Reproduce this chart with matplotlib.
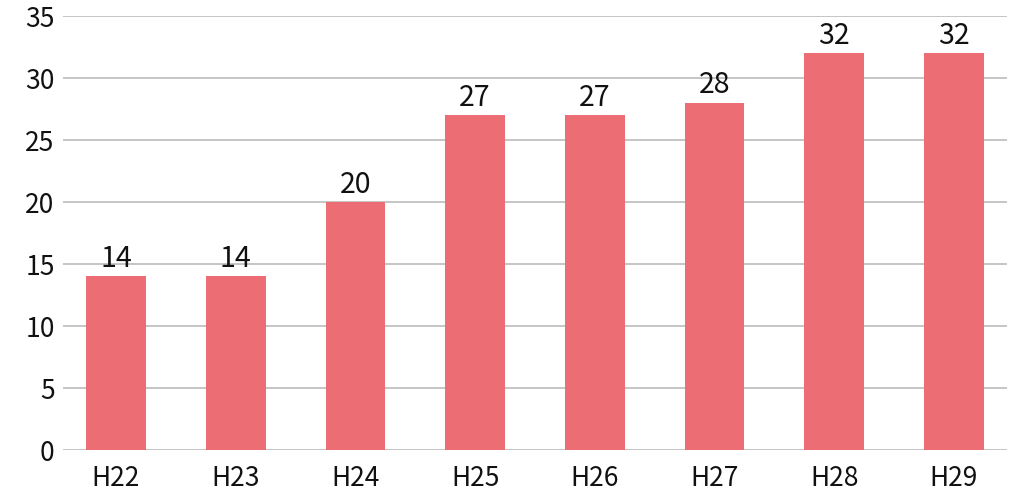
import matplotlib
matplotlib.use("Agg")
import matplotlib.pyplot as plt

years = ["H22", "H23", "H24", "H25", "H26", "H27", "H28", "H29"]
counts = [14, 14, 20, 27, 27, 28, 32, 32]
yticks = [0, 5, 10, 15, 20, 25, 30, 35]

plt.rcParams['font.family'] = ['Noto Sans CJK JP', 'DejaVu Sans']

fig = plt.figure(figsize=(10.12, 4.94), dpi=100)
ax = fig.add_axes([63 / 1012, 1 - 450 / 494, (1007 - 63) / 1012, (450 - 16) / 494])

x = range(len(years))
bars = ax.bar(x, counts, width=0.5, color='#EC6D74', zorder=3)
for xi, v in zip(x, counts):
    ax.text(xi, v + 0.2, str(v), ha='center', va='bottom', fontsize=20.5, color='#111111')

ax.set_xlim(-0.443, len(years) - 1 + 0.443)
ax.set_ylim(0, 35)
ax.set_yticks(yticks)
ax.set_xticks(list(x))
ax.set_xticklabels(years)
ax.grid(axis='y', color='#bbbbbb', linewidth=1.2, zorder=0)
ax.tick_params(axis='both', length=0, labelsize=19, colors='#111111')
ax.tick_params(axis='y', pad=6)
ax.tick_params(axis='x', pad=11)
for s in ax.spines.values():
    s.set_visible(False)

fig.savefig("out.png", dpi=100)
